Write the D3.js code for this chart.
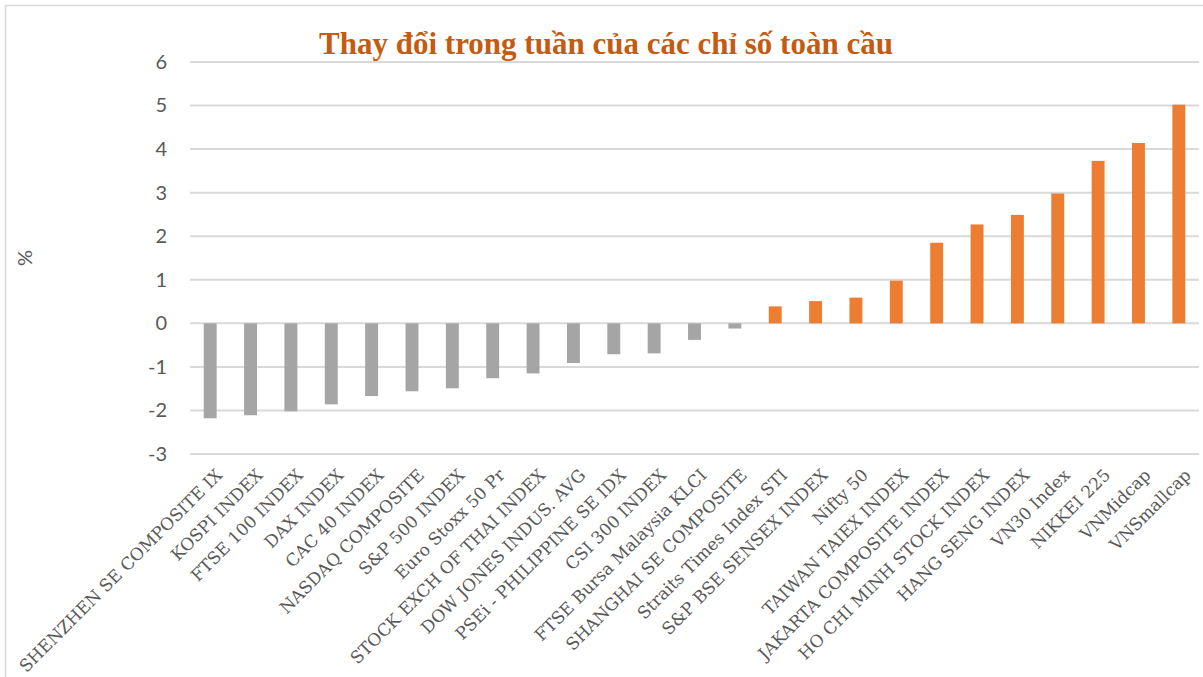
<!DOCTYPE html>
<html>
	<head>
		<meta charset="utf-8">
		<script src="https://d3js.org/d3.v7.min.js"></script>
		<style>
			body {
				margin: 0;
				background-color: white;
			}

			svg {
				display: block;
			}
		</style>
	</head>
	<body>
		<svg id="chart" width="1203" height="677"></svg>
		<script>
			var title = "Thay đổi trong tuần của các chỉ số toàn cầu"
			var yLabel = "%"

			var categories = [
				"SHENZHEN SE COMPOSITE IX", "KOSPI INDEX", "FTSE 100 INDEX", "DAX INDEX",
				"CAC 40 INDEX", "NASDAQ COMPOSITE", "S&P 500 INDEX", "Euro Stoxx 50 Pr",
				"STOCK EXCH OF THAI INDEX", "DOW JONES INDUS. AVG", "PSEi - PHILIPPINE SE IDX",
				"CSI 300 INDEX", "FTSE Bursa Malaysia KLCI", "SHANGHAI SE COMPOSITE",
				"Straits Times Index STI", "S&P BSE SENSEX INDEX", "Nifty 50", "TAIWAN TAIEX INDEX",
				"JAKARTA COMPOSITE INDEX", "HO CHI MINH STOCK INDEX", "HANG SENG INDEX",
				"VN30 Index", "NIKKEI 225", "VNMidcap", "VNSmallcap"
			]

			var changes = [
				-2.18, -2.11, -2.02, -1.86,
				-1.67, -1.56, -1.49, -1.26,
				-1.15, -0.91, -0.71,
				-0.69, -0.38, -0.12,
				0.39, 0.51, 0.59, 0.98,
				1.85, 2.27, 2.49,
				2.98, 3.73, 4.14, 5.02
			]

			var yTicks = [-3, -2, -1, 0, 1, 2, 3, 4, 5, 6]

			var svg = d3.select("#chart")

			var margin = { left: 190, right: 1199, top: 62, bottom: 454 }

			var x = d3.scaleBand()
				.domain(categories)
				.range([margin.left, margin.right])
				.paddingInner(0.68)
				.paddingOuter(0.34)

			var y = d3.scaleLinear()
				.domain([d3.min(yTicks), d3.max(yTicks)])
				.range([margin.bottom, margin.top])

			// chart frame (only top and left edges are in view)
			svg.append("rect")
				.attr("x", 5.5)
				.attr("y", 5.5)
				.attr("width", 1210)
				.attr("height", 700)
				.attr("fill", "none")
				.attr("stroke", "#d9d9d9")
				.attr("stroke-width", 1.5)

			// y labels, plain hyphen for negatives like the source
			var yAxis = d3.axisLeft(y)
				.tickValues(yTicks)
				.tickSize(0)
				.tickPadding(23)
				.tickFormat(d => String(d))

			var gy = svg.append("g")
				.attr("transform", "translate(" + margin.left + ",0)")
				.call(yAxis)

			gy.select(".domain").remove()
			gy.selectAll("text")
				.attr("font-family", "Lato, 'Open Sans', sans-serif")
				.attr("font-size", 20)
				.attr("fill", "#595959")

			// gridlines
			svg.append("g")
				.selectAll("line")
				.data(yTicks)
				.join("line")
				.attr("x1", margin.left)
				.attr("x2", margin.right)
				.attr("y1", d => y(d))
				.attr("y2", d => y(d))
				.attr("stroke", "#d9d9d9")
				.attr("stroke-width", 2)

			// bars
			svg.append("g")
				.selectAll("rect")
				.data(changes)
				.join("rect")
				.attr("x", (d, i) => x(categories[i]))
				.attr("width", x.bandwidth())
				.attr("y", d => y(Math.max(0, d)))
				.attr("height", d => Math.abs(y(d) - y(0)))
				.attr("fill", d => d < 0 ? "#a5a5a5" : "#ed7d31")

			// x labels
			svg.append("g")
				.selectAll("text")
				.data(categories)
				.join("text")
				.attr("transform", d => "translate(" + (x(d) + x.bandwidth() / 2 + 9) + ",472) rotate(-45)")
				.attr("text-anchor", "end")
				.attr("dy", "0.35em")
				.attr("font-family", "'DejaVu Serif', 'Liberation Serif', serif")
				.attr("font-size", 17)
				.attr("fill", "#595959")
				.text(d => d)

			// y axis title
			svg.append("text")
				.attr("transform", "translate(32,258) rotate(-90)")
				.attr("text-anchor", "middle")
				.attr("font-family", "Lato, 'Open Sans', sans-serif")
				.attr("font-size", 20)
				.attr("fill", "#595959")
				.text(yLabel)

			// title
			svg.append("text")
				.attr("x", 606)
				.attr("y", 54)
				.attr("text-anchor", "middle")
				.attr("font-family", "'Liberation Serif', 'DejaVu Serif', serif")
				.attr("font-weight", "bold")
				.attr("font-size", 31)
				.attr("fill", "#c55a11")
				.text(title)
		</script>
	</body>
</html>
